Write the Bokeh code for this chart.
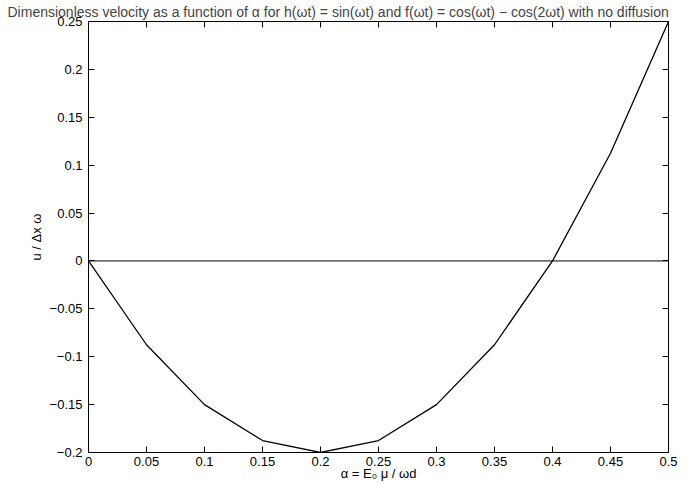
from bokeh.plotting import figure
from bokeh.models import FixedTicker, LinearAxis, Range1d
from bokeh.embed import file_html
from bokeh.resources import INLINE

alpha = [0.0, 0.05, 0.1, 0.15, 0.2, 0.25, 0.3, 0.35, 0.4, 0.45, 0.5]
velocity = [0.0, -0.0875, -0.15, -0.1875, -0.2, -0.1875, -0.15, -0.0875, 0.0, 0.1125, 0.25]
zero_x = [0.0, 0.5]
zero_y = [0.0, 0.0]

x_ticks = [0, 0.05, 0.1, 0.15, 0.2, 0.25, 0.3, 0.35, 0.4, 0.45, 0.5]
x_labels = ["0", "0.05", "0.1", "0.15", "0.2", "0.25", "0.3", "0.35", "0.4", "0.45", "0.5"]
y_ticks = [-0.2, -0.15, -0.1, -0.05, 0, 0.05, 0.1, 0.15, 0.2, 0.25]
y_labels = ["\u22120.2", "\u22120.15", "\u22120.1", "\u22120.05", "0", "0.05", "0.1", "0.15", "0.2", "0.25"]

title_text = "Dimensionless velocity as a function of \u03b1 for h(\u03c9t) = sin(\u03c9t) and f(\u03c9t) = cos(\u03c9t) \u2212 cos(2\u03c9t) with no diffusion"

FONT = "Liberation Sans"

p = figure(width=690, height=483, output_backend="svg", toolbar_location=None,
           x_range=Range1d(0, 0.5), y_range=Range1d(-0.2, 0.25),
           min_border_left=88, min_border_right=22, min_border_top=0, min_border_bottom=31)

p.title.text = title_text
p.title.align = "left"
p.title.text_font = FONT
p.title.text_font_size = "14px"
p.title.text_font_style = "normal"
p.title.standoff = 3
p.title.offset = -81

p.grid.visible = False
p.outline_line_color = "black"
p.outline_line_width = 1

p.line(alpha, velocity, line_color="black", line_width=1.3)
p.line(zero_x, zero_y, line_color="black", line_width=1.0)

for ax in p.xaxis:
    ax.ticker = FixedTicker(ticks=x_ticks)
    ax.major_label_overrides = dict(zip(x_ticks, x_labels))
    ax.axis_label = "\u03b1 = E\u2080 \u03bc / \u03c9d"
for ax in p.yaxis:
    ax.ticker = FixedTicker(ticks=y_ticks)
    ax.major_label_overrides = dict(zip(y_ticks, y_labels))
    ax.axis_label = "u / \u0394x \u03c9"

for ax in p.xaxis + p.yaxis:
    ax.major_tick_in = 6
    ax.major_tick_out = 0
    ax.minor_tick_line_color = None
    ax.axis_line_color = "black"
    ax.major_label_text_font = FONT
    ax.major_label_text_font_size = "13px"
    ax.major_label_text_color = "black"
    ax.axis_label_text_font = FONT
    ax.axis_label_text_font_size = "13px"
    ax.axis_label_text_font_style = "normal"
    ax.axis_label_text_color = "black"
    ax.major_label_standoff = 1
    ax.axis_label_standoff = 0

p.xaxis[0].major_label_standoff = 4
p.xaxis[0].axis_label_standoff = -3
p.yaxis[0].major_label_standoff = 6
p.yaxis[0].axis_label_standoff = 3

top = LinearAxis(ticker=FixedTicker(ticks=x_ticks),
                 major_label_overrides={t: "" for t in x_ticks},
                 major_tick_in=6, major_tick_out=0, minor_tick_line_color=None,
                 major_label_standoff=0)
right = LinearAxis(ticker=FixedTicker(ticks=y_ticks),
                   major_label_overrides={t: "" for t in y_ticks},
                   major_tick_in=6, major_tick_out=0, minor_tick_line_color=None,
                   major_label_standoff=0)
p.add_layout(top, "above")
p.add_layout(right, "right")

open("out.html", "w").write(file_html(p, INLINE))
